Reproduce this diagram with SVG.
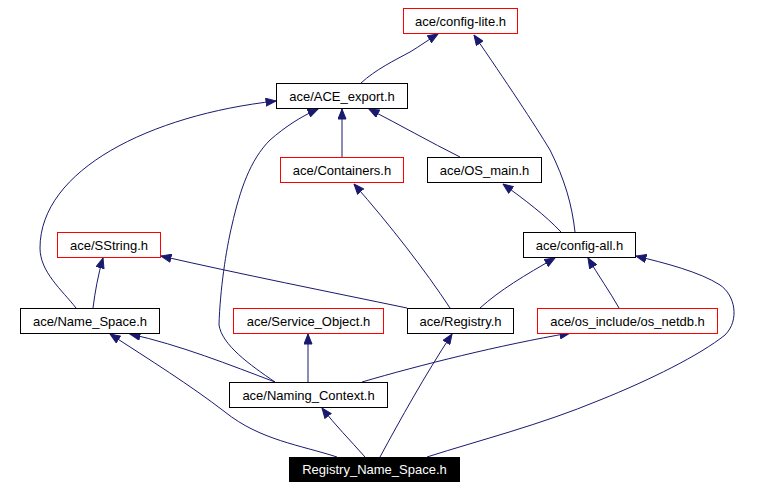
<svg xmlns="http://www.w3.org/2000/svg" width="773" height="488" viewBox="0 0 773 488">
<style>
.n rect{fill:#fff;stroke:#000;stroke-width:1}
.n.r rect{stroke:#f00}
.n text{font-family:"Liberation Sans",Arial,Helvetica,sans-serif;font-size:13px;text-anchor:middle;fill:#000}
.n.root rect{fill:#000;stroke:#000}
.n.root text{fill:#fff}
#edges path{fill:none;stroke:#191970;stroke-width:1;marker-end:url(#ah)}
</style>
<defs>
<marker id="ah" markerUnits="userSpaceOnUse" markerWidth="11" markerHeight="9" viewBox="0 0 11 9" refX="10.5" refY="4.5" orient="auto">
<path d="M0.5,0.5 L10.5,4.5 L0.5,8.5 z" fill="#191970" stroke="#191970" stroke-width="1"/>
</marker>
</defs>
<rect width="773" height="488" fill="#fff"/>
<g id="edges">
<path d="M361,83 C375,70 395,60 410,52 C420,46 428,40 438,34"/>
<path d="M575,232 C572,205 565,180 550,150 C535,125 505,80 474,35"/>
<path d="M342,157 L342,109"/>
<path d="M460,157 C430,142 400,125 369,109"/>
<path d="M76,308 C62,290 40,272 40,248 C40,170 150,115 276,101"/>
<path d="M275,382 C250,365 222,345 219,325 C220,290 226,250 232,225 C240,190 250,160 270,140 C285,127 300,117 318,109"/>
<path d="M561,232 C545,215 525,200 503,184"/>
<path d="M450,308 C425,270 390,225 354,184"/>
<path d="M407,308 C330,292 240,274 161,256"/>
<path d="M480,308 C500,290 525,275 555,258"/>
<path d="M619,308 C610,292 598,275 588,258"/>
<path d="M93,308 C95,292 98,275 103,258"/>
<path d="M275,382 C230,365 180,345 130,334"/>
<path d="M308,382 L308,334"/>
<path d="M362,382 C420,365 500,345 570,333"/>
<path d="M337,457 C300,445 260,440 225,412 C190,385 150,360 110,334"/>
<path d="M365,457 C350,440 335,425 322,408"/>
<path d="M380,457 C400,420 425,375 452,334"/>
<path d="M427,457 C480,440 540,425 600,400 C650,380 700,355 725,335 C740,320 735,295 720,285 C700,272 665,263 636,256"/>
</g>
<g id="config-lite" class="n r"><rect x="403.5" y="8.5" width="114" height="25"/><text x="460.5" y="25.5">ace/config-lite.h</text></g>
<g id="ACE_export" class="n"><rect x="276.5" y="83.5" width="131" height="25"/><text x="342" y="100.5">ace/ACE_export.h</text></g>
<g id="Containers" class="n r"><rect x="280.5" y="157.5" width="123" height="25"/><text x="342" y="174.5">ace/Containers.h</text></g>
<g id="OS_main" class="n"><rect x="427.5" y="157.5" width="114" height="25"/><text x="484.5" y="174.5">ace/OS_main.h</text></g>
<g id="SString" class="n r"><rect x="57.5" y="232.5" width="103" height="25"/><text x="109" y="249.5">ace/SString.h</text></g>
<g id="config-all" class="n"><rect x="523.5" y="232.5" width="112" height="25"/><text x="579.5" y="249.5">ace/config-all.h</text></g>
<g id="Name_Space" class="n"><rect x="20.5" y="308.5" width="139" height="25"/><text x="90" y="325.5">ace/Name_Space.h</text></g>
<g id="Service_Object" class="n r"><rect x="233.5" y="308.5" width="150" height="25"/><text x="308.5" y="325.5">ace/Service_Object.h</text></g>
<g id="Registry" class="n"><rect x="407.5" y="308.5" width="106" height="25"/><text x="460.5" y="325.5">ace/Registry.h</text></g>
<g id="os_netdb" class="n r"><rect x="537.5" y="308.5" width="180" height="25"/><text x="627.5" y="325.5">ace/os_include/os_netdb.h</text></g>
<g id="Naming_Context" class="n"><rect x="229.5" y="382.5" width="158" height="25"/><text x="308.5" y="399.5">ace/Naming_Context.h</text></g>
<g id="Registry_Name_Space" class="n root"><rect x="289.5" y="457.5" width="170" height="24"/><text x="374.5" y="474">Registry_Name_Space.h</text></g>
</svg>
